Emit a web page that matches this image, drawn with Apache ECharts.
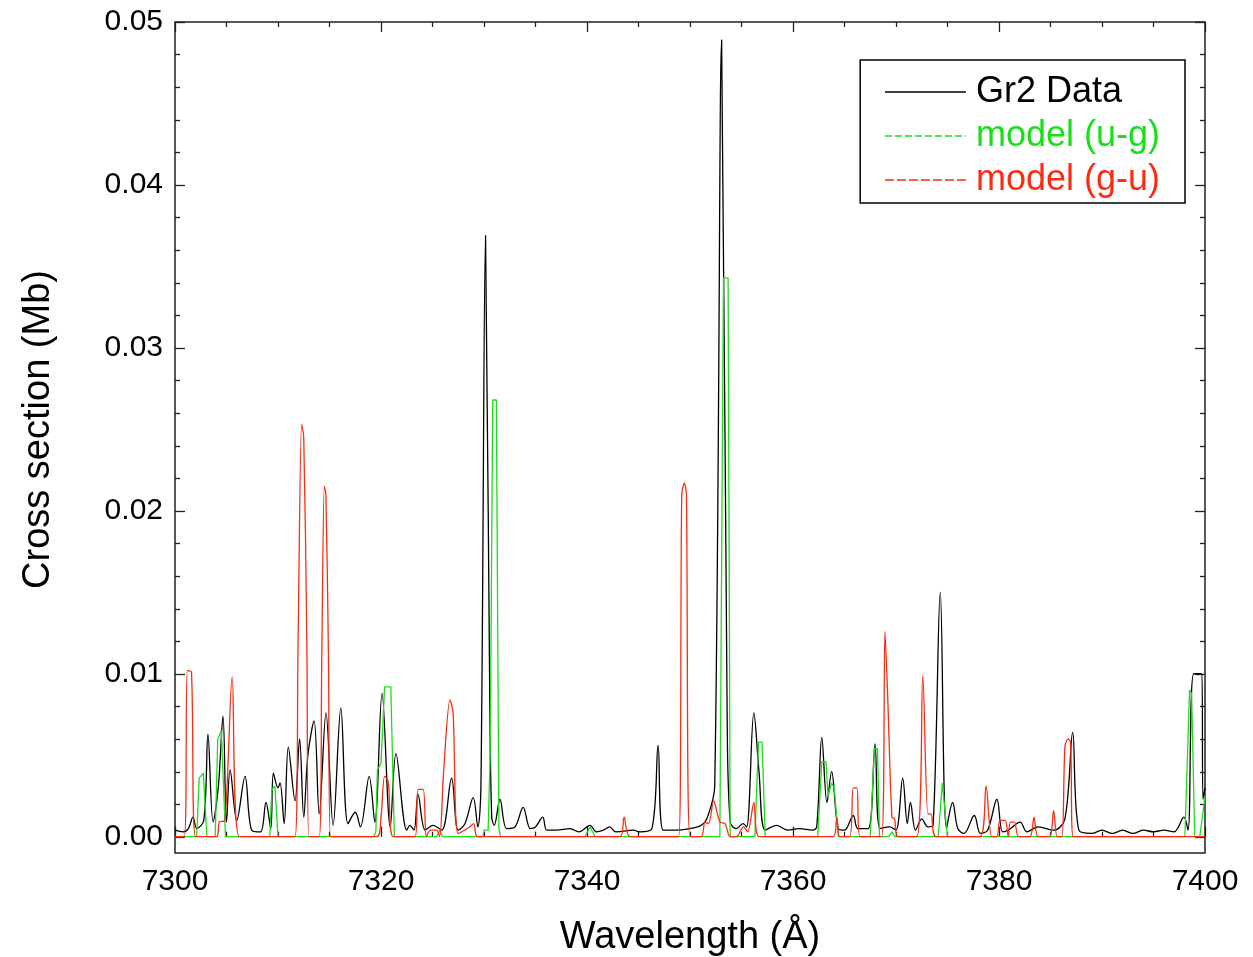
<!DOCTYPE html>
<html>
<head>
<meta charset="utf-8">
<script src="https://cdn.jsdelivr.net/npm/echarts@6/dist/echarts.min.js"></script>
<style>
  html, body { margin: 0; padding: 0; background: #fff; }
  #chart { width: 1253px; height: 957px; }
</style>
</head>
<body>
<div id="chart"></div>
<script>
// [wavelength (Å), cross section (Mb)]
const gr2Data = [
  [7300.0,0.0004],[7300.8,0.0003],[7301.3,0.0005],[7301.75,0.0012],[7302.1,0.0005],[7302.8,0.0010],
  [7303.2,0.0063],[7303.7,0.0009],[7304.2,0.0030],[7304.66,0.0074],[7305.0,0.0009],[7305.35,0.0041],
  [7306.0,0.0010],[7306.8,0.0037],[7307.45,0.0004],[7308.3,0.0003],[7308.83,0.0021],[7309.3,0.0005],
  [7309.55,0.0039],[7310.0,0.0030],[7310.2,0.0033],[7310.6,0.0008],[7311.0,0.0055],[7311.65,0.0022],
  [7312.1,0.0060],[7312.5,0.0012],[7312.9,0.0050],[7313.5,0.0071],[7314.0,0.0014],[7314.66,0.0076],
  [7315.35,0.0007],[7316.1,0.0079],[7316.8,0.0008],[7317.5,0.0015],[7318.0,0.0006],[7318.85,0.0037],
  [7319.4,0.0009],[7320.1,0.0088],[7320.9,0.0006],[7321.45,0.0051],[7322.5,0.0004],[7322.8,0.0007],
  [7323.2,0.0004],[7323.6,0.0026],[7324.3,0.0004],[7325.05,0.0007],[7325.9,0.0004],[7326.85,0.0036],
  [7327.5,0.0004],[7328.15,0.0008],[7328.95,0.0024],[7329.4,0.0006],[7329.7,0.0030],[7330.15,0.0369],
  [7330.55,0.0090],[7330.75,0.0012],[7331.0,0.0007],[7331.55,0.0023],[7332.2,0.0005],[7333.0,0.0006],
  [7333.8,0.0018],[7334.5,0.0005],[7335.0,0.0006],[7335.7,0.0012],[7336.1,0.0004],[7337.0,0.0004],
  [7338.35,0.0005],[7339.2,0.0003],[7340.3,0.0007],[7340.9,0.0003],[7341.6,0.0004],[7342.2,0.0006],
  [7342.8,0.0003],[7344.5,0.0004],[7345.1,0.0003],[7346.3,0.0005],[7346.9,0.0056],[7347.4,0.0004],
  [7348.5,0.0004],[7350.0,0.0005],[7351.1,0.0007],[7351.7,0.0012],[7352.4,0.0031],[7353.07,0.0489],
  [7353.6,0.0080],[7353.9,0.0009],[7354.5,0.0005],[7355.15,0.0008],[7355.5,0.0006],[7356.2,0.0076],
  [7356.7,0.0040],[7357.3,0.0004],[7358.4,0.0007],[7359.5,0.0004],[7360.6,0.0005],[7361.9,0.0004],
  [7362.3,0.0006],[7362.8,0.0061],[7363.3,0.0021],[7363.75,0.0040],[7364.4,0.0005],[7365.0,0.0004],
  [7365.85,0.0013],[7366.3,0.0005],[7367.3,0.0005],[7367.96,0.0057],[7368.45,0.0005],[7369.4,0.0006],
  [7370.0,0.0004],[7370.65,0.0036],[7371.1,0.0008],[7371.4,0.0021],[7371.9,0.0004],[7372.5,0.0011],
  [7373.1,0.0006],[7373.6,0.0007],[7374.3,0.0150],[7374.9,0.0005],[7375.5,0.0021],[7376.0,0.0005],
  [7376.6,0.0002],[7377.6,0.0013],[7378.2,0.0002],[7378.9,0.0004],[7379.8,0.0023],[7380.35,0.0003],
  [7380.9,0.0004],[7382.05,0.0009],[7382.7,0.0003],[7383.8,0.0006],[7385.3,0.0004],[7386.4,0.0011],
  [7387.15,0.0064],[7387.75,0.0004],[7389.0,0.0002],[7390.0,0.0004],[7391.0,0.0002],[7392.0,0.0004],
  [7393.0,0.0002],[7394.0,0.0004],[7395.0,0.0003],[7396.0,0.0004],[7397.0,0.0003],[7397.95,0.0012],
  [7398.35,0.0004],[7398.9,0.0100],[7399.7,0.0100],[7399.8,0.0023],[7400.0,0.0030]
];

const modelUgData = [
  [7300.0,0],[7302.1,0],[7302.35,0.0036],[7302.75,0.0039],[7303.1,0],
  [7303.9,0],[7304.15,0.0060],[7304.5,0.0065],[7304.9,0],
  [7309.2,0],[7309.4,0.0029],[7309.7,0.0031],[7310.0,0],
  [7319.3,0],[7319.5,0.0003],[7319.65,0.0041],[7320.0,0.0045],[7320.35,0.0092],[7320.95,0.0092],[7321.3,0],
  [7325.4,0],[7325.7,0.0004],[7326.0,0],
  [7329.9,0],[7330.0,0.0004],[7330.4,0.0004],[7330.6,0.0050],[7330.85,0.0268],[7331.2,0.0268],[7331.45,0.0005],[7331.6,0],
  [7339.8,0],[7340.3,0.0006],[7340.8,0],
  [7352.9,0],[7353.25,0.0343],[7353.7,0.0343],[7353.9,0],
  [7356.3,0],[7356.65,0.0058],[7357.0,0.0058],[7357.3,0],
  [7362.4,0],[7362.8,0.0046],[7363.2,0.0046],[7363.4,0.0025],[7363.75,0.0033],[7364.0,0.0030],[7364.4,0],
  [7367.5,0],[7367.9,0.0054],[7368.2,0.0054],[7368.4,0],
  [7369.3,0],[7369.6,0.0003],[7369.9,0],
  [7374.1,0],[7374.5,0.0033],[7375.0,0],
  [7398.05,0],[7398.5,0.0090],[7398.7,0.0088],[7399.0,0],[7399.5,0],[7400.0,0.0025]
];

const modelGuData = [
  [7300.0,0],[7300.9,0],[7301.2,0.0102],[7301.6,0.0101],[7302.0,0],
  [7304.05,0],[7304.3,0.0009],[7304.85,0.0010],[7305.55,0.0098],[7306.25,0],
  [7311.65,0],[7311.95,0.0120],[7312.3,0.0253],[7312.5,0.0245],[7312.8,0.0120],[7313.0,0],
  [7314.0,0],[7314.25,0.0110],[7314.5,0.0215],[7314.65,0.0210],[7314.9,0.0110],[7315.1,0],
  [7319.6,0],[7320.0,0.0012],[7320.35,0.0037],[7320.7,0.0034],[7321.2,0],
  [7323.3,0],[7323.6,0.0029],[7324.1,0.0029],[7324.4,0],
  [7324.8,0.0004],[7325.4,0.0004],[7325.7,0],
  [7326.05,0.0037],[7326.7,0.0084],[7327.0,0.0076],[7327.5,0.0002],
  [7328.6,0.0006],[7329.0,0.0008],[7329.4,0],
  [7343.2,0],[7343.6,0.0012],[7344.2,0],
  [7348.9,0],[7349.2,0.0210],[7349.45,0.0217],[7349.65,0.0210],[7350.0,0],
  [7351.1,0],[7351.45,0.0009],[7351.8,0.0008],[7352.3,0.0022],[7352.9,0.0009],[7353.4,0.0008],[7353.9,0],
  [7354.5,0],[7355.2,0.0006],[7355.6,0.0003],[7356.2,0.0021],[7356.7,0],
  [7363.9,0],[7364.25,0.0012],[7364.55,0],
  [7365.5,0],[7365.85,0.0030],[7366.2,0.0030],[7366.5,0],
  [7368.6,0],[7368.93,0.0126],[7369.2,0.0085],[7369.6,0.0012],[7369.85,0.0011],[7370.2,0],
  [7372.0,0],[7372.6,0.0099],[7373.1,0.0014],[7373.4,0.0014],[7373.9,0],
  [7378.15,0],[7378.74,0.0031],[7379.3,0],
  [7379.8,0],[7380.1,0.0010],[7380.6,0.0010],[7380.9,0],[7381.1,0.0009],[7381.5,0.0009],[7381.9,0],
  [7383.0,0],[7383.4,0.0012],[7383.8,0],
  [7384.9,0],[7385.3,0.0016],[7385.65,0],
  [7386.1,0],[7386.4,0.0055],[7386.7,0.0060],[7386.95,0.0058],[7387.2,0],
  [7400.0,0]
];

const seriesNames = ['Gr2 Data', 'model (u-g)', 'model (g-u)'];
const seriesColors = ['#000000', '#18e018', '#ff2a10'];
const yTickValues = [0, 0.01, 0.02, 0.03, 0.04, 0.05];

const FONT = '"Liberation Sans", Arial, sans-serif';
const chart = echarts.init(document.getElementById('chart'));

const tickStyle = { color: '#222', width: 1.3 };

const option = {
  backgroundColor: '#fff',
  animation: false,
  grid: [
    {
      left: 175, right: 48, top: 22, bottom: 104, outerBoundsMode: 'none',
      show: true, borderColor: '#222', borderWidth: 1.5, backgroundColor: 'transparent'
    },
    { left: 175, right: 48, top: 22, bottom: 120, outerBoundsMode: 'none' }
  ],
  legend: {
    orient: 'vertical',
    right: 68,
    top: 60,
    selectedMode: false,
    itemWidth: 81,
    itemHeight: 2,
    itemGap: 8,
    padding: [14, 25, 5, 24],
    borderColor: '#000',
    borderWidth: 1.5,
    itemStyle: { opacity: 0 },
    textStyle: { fontSize: 36, fontFamily: FONT, lineHeight: 36, padding: [0, 0, 0, 5] },
    data: [
      { name: seriesNames[0], textStyle: { color: seriesColors[0] }, lineStyle: { width: 1.3 } },
      { name: seriesNames[1], textStyle: { color: seriesColors[1] }, lineStyle: { type: [7, 3], width: 1.5 } },
      { name: seriesNames[2], textStyle: { color: seriesColors[2] }, lineStyle: { type: [9, 3], width: 1.5 } }
    ]
  },
  xAxis: [
    {
      gridIndex: 0, type: 'value', min: 7300, max: 7400, interval: 20, position: 'bottom',
      axisLine: { show: false },
      axisTick: { inside: true, length: 10, lineStyle: tickStyle },
      minorTick: { show: true, splitNumber: 4, length: 5, lineStyle: tickStyle },
      splitLine: { show: false },
      axisLabel: { fontSize: 30, fontFamily: FONT, color: '#000', margin: 14, formatter: v => String(v) },
      name: 'Wavelength (Å)', nameLocation: 'middle', nameGap: 66,
      nameTextStyle: { fontSize: 38, fontFamily: FONT, color: '#000' }
    },
    {
      gridIndex: 0, type: 'value', min: 7300, max: 7400, interval: 20, position: 'top',
      axisLine: { show: false },
      axisTick: { inside: true, length: 10, lineStyle: tickStyle },
      minorTick: { show: true, splitNumber: 4, length: 5, lineStyle: tickStyle },
      splitLine: { show: false },
      axisLabel: { show: false }
    },
    { gridIndex: 1, type: 'value', min: 7300, max: 7400, show: false }
  ],
  yAxis: [
    { gridIndex: 0, type: 'value', min: -0.001, max: 0.05, show: false },
    {
      gridIndex: 1, type: 'value', min: 0, max: 0.05, interval: 0.01, position: 'left',
      axisLine: { show: false },
      axisTick: { inside: true, length: 10, lineStyle: tickStyle },
      minorTick: { show: true, splitNumber: 5, length: 5, lineStyle: tickStyle },
      splitLine: { show: false },
      axisLabel: {
        fontSize: 30, fontFamily: FONT, color: '#000', margin: 12,
        formatter: v => yTickValues.includes(Math.round(v * 100) / 100) ? v.toFixed(2) : ''
      },
      name: 'Cross section (Mb)', nameLocation: 'middle', nameGap: 117,
      nameTextStyle: { fontSize: 38, fontFamily: FONT, color: '#000' }
    },
    {
      gridIndex: 1, type: 'value', min: 0, max: 0.05, interval: 0.01, position: 'right',
      axisLine: { show: false },
      axisTick: { inside: true, length: 10, lineStyle: tickStyle },
      minorTick: { show: true, splitNumber: 5, length: 5, lineStyle: tickStyle },
      splitLine: { show: false },
      axisLabel: { show: false }
    }
  ],
  series: [
    {
      name: seriesNames[0], type: 'line', xAxisIndex: 0, yAxisIndex: 0,
      showSymbol: false, symbol: 'none', data: gr2Data, smooth: 0.35,
      lineStyle: { color: seriesColors[0], width: 1.3 }, itemStyle: { color: seriesColors[0] }
    },
    {
      name: seriesNames[1], type: 'line', xAxisIndex: 0, yAxisIndex: 0,
      showSymbol: false, symbol: 'none', data: modelUgData,
      lineStyle: { color: seriesColors[1], width: 1.3 }, itemStyle: { color: seriesColors[1] }
    },
    {
      name: seriesNames[2], type: 'line', xAxisIndex: 0, yAxisIndex: 0,
      showSymbol: false, symbol: 'none', data: modelGuData, smooth: 0.3,
      lineStyle: { color: seriesColors[2], width: 1.3 }, itemStyle: { color: seriesColors[2] }
    }
  ]
};

chart.setOption(option);
</script>
</body>
</html>
